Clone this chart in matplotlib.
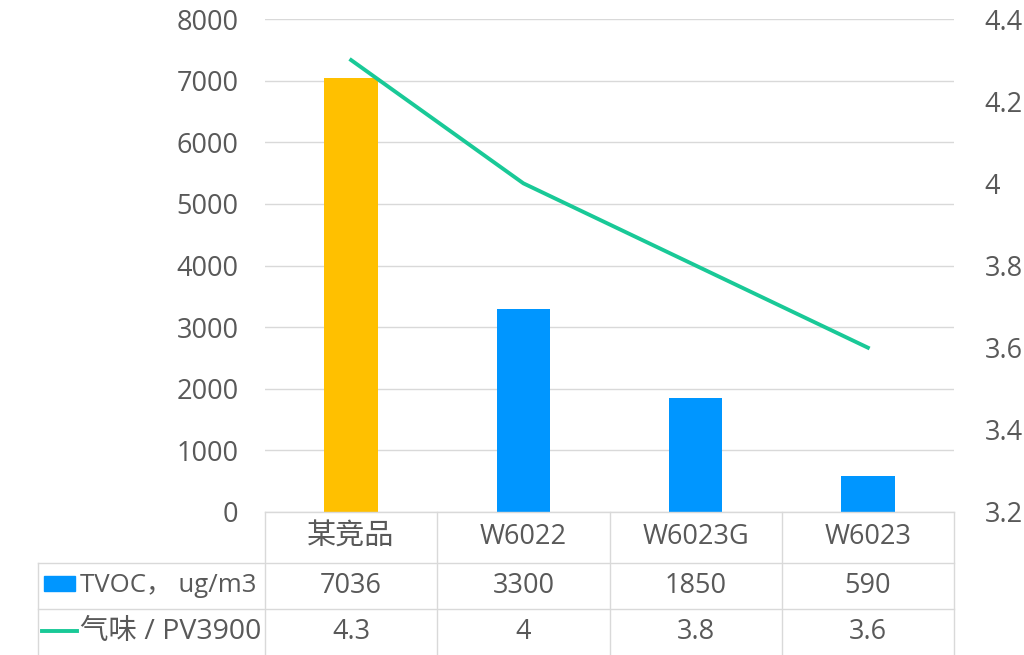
import numpy as np
import matplotlib.pyplot as plt
from matplotlib.patches import Rectangle
from matplotlib.transforms import blended_transform_factory

plt.rcParams['font.family'] = ['Open Sans', 'Noto Sans CJK SC', 'DejaVu Sans']

# data
products = ['某竞品', 'W6022', 'W6023G', 'W6023']
tvoc = [7036, 3300, 1850, 590]
odor = [4.3, 4, 3.8, 3.6]
bar_colors = ['#FFC000', '#0096FF', '#0096FF', '#0096FF']
tvoc_label = 'TVOC， ug/m3'
odor_label = '气味 / PV3900'

text_col = '#595959'
grid_col = '#D9D9D9'
line_col = '#19C997'
fs = 19.5

fig = plt.figure(figsize=(10.24, 6.55), dpi=100)
ax = fig.add_axes([265 / 1024, 143 / 655, 689 / 1024, 493 / 655])

x = np.arange(len(products))
ax.bar(x, tvoc, width=0.31, color=bar_colors, zorder=2)
ax.set_xlim(-0.5, len(products) - 0.5)
ax.set_ylim(0, 8000)
ax.set_yticks(np.arange(0, 8001, 1000))
ax.yaxis.grid(True, color=grid_col, lw=1)
ax.set_axisbelow(True)
ax.set_xticks([])
ax.tick_params(axis='y', length=0, pad=19, labelsize=fs, labelcolor=text_col)
for s in ax.spines.values():
    s.set_visible(False)

ax2 = ax.twinx()
ax2.plot(x, odor, color=line_col, lw=2.8, zorder=3)
ax2.set_ylim(3.2, 4.4)
ax2.set_yticks(np.arange(3.2, 4.41, 0.2))
ax2.set_yticklabels(['%g' % round(v, 1) for v in np.arange(3.2, 4.41, 0.2)])
ax2.tick_params(axis='y', length=0, pad=22, labelsize=fs, labelcolor=text_col)
for s in ax2.spines.values():
    s.set_visible(False)

# data table under the plot
tr = blended_transform_factory(ax.transData, ax.transAxes)
px = 1 / 493.0
col_w = 689 / len(products)  # pixels per category
left_edge = -0.5 - 227 / col_w
row1 = -51 * px
row2 = -97 * px
bottom = -143 * px

lkw = dict(color=grid_col, lw=1, transform=tr, clip_on=False)
ax.plot([-0.5, 3.5], [0, 0], **lkw)
ax.plot([left_edge, 3.5], [row1, row1], **lkw)
ax.plot([left_edge, 3.5], [row2, row2], **lkw)
ax.plot([left_edge, left_edge], [row1, bottom], **lkw)
for b in np.arange(-0.5, len(products), 1.0):
    ax.plot([b, b], [0, bottom], **lkw)

tkw = dict(transform=tr, ha='center', va='center', fontsize=fs, color=text_col, clip_on=False)
for i, name in enumerate(products):
    size = 21 if i == 0 else fs
    ax.text(i, (0 + row1) / 2, name, **{**tkw, 'fontsize': size})
    ax.text(i, (row1 + row2) / 2, '%g' % tvoc[i], **tkw)
    ax.text(i, (row2 + bottom) / 2, '%g' % odor[i], **tkw)

lab_x = -0.5 - 185 / col_w
ax.text(lab_x, (row1 + row2) / 2, tvoc_label, transform=tr, ha='left', va='center',
        fontsize=18.5, color=text_col)
ax.text(lab_x, (row2 + bottom) / 2, odor_label, transform=tr, ha='left', va='center',
        fontsize=20.5, color=text_col)
ax.add_patch(Rectangle((-0.5 - 221 / col_w, -79 * px), 31 / col_w, 15 * px,
                       color='#0096FF', transform=tr, clip_on=False))
ax.plot([-0.5 - 223 / col_w, -0.5 - 188 / col_w], [-119 * px, -119 * px],
        color=line_col, lw=2.8, transform=tr, clip_on=False)

fig.savefig('out.png', dpi=100)
